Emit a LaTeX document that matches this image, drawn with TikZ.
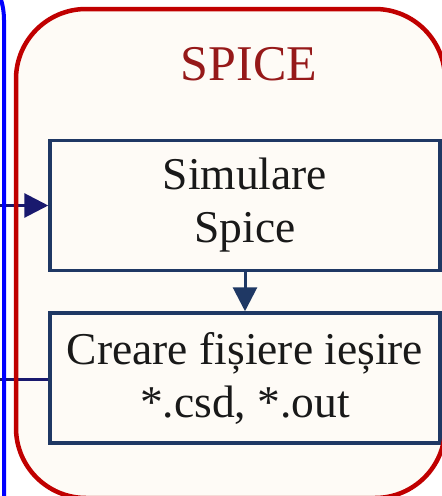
\documentclass[tikz,border=0pt]{standalone}
\usepackage{fontspec}
\setmainfont[Ligatures={NoCommon}]{Liberation Serif}
\usetikzlibrary{arrows.meta}
\definecolor{panelfill}{RGB}{254,251,246}
\definecolor{panelred}{RGB}{192,0,0}
\definecolor{titlered}{RGB}{150,25,25}
\definecolor{boxblue}{RGB}{31,56,100}
\definecolor{flownavy}{RGB}{25,25,110}
\tikzset{
  stepbox/.style={draw=boxblue, line width=3.5pt, fill=panelfill, minimum width=390pt,
    minimum height=130pt, align=center, inner sep=0pt,
    font=\fontsize{45.5pt}{53pt}\selectfont, text=black!90},
  flow/.style={line width=3pt, -{Triangle[length=24pt,width=24pt]}},
}
\begin{document}
\begin{tikzpicture}[x=1pt,y=-1pt]
  \useasboundingbox (0,0) rectangle (442,496);
  % panel background
  \fill[panelfill, rounded corners=70pt] (16,9) rectangle (445,498);
  % process steps
  \node[stepbox] (sim) at (245,205.5) {Simulare\\Spice};
  \node[stepbox] (out) at (245,378) {Creare fișiere ieșire\\*.csd, *.out};
  \node[text=titlered, font=\fontsize{50pt}{60pt}\selectfont, anchor=base] (title) at (249,80) {SPICE};
  % connectors
  \coordinate (inL) at (-5,205.5);
  \coordinate (outL) at (-5,379);
  \draw[flow, draw=flownavy, fill=flownavy] (inL) -- (sim.west);
  \draw[line width=3pt, draw=flownavy] (out.west |- outL) -- (outL);
  \draw[flow, draw=boxblue, fill=boxblue] (sim.south) -- (out.north);
  % panel outlines
  \draw[panelred, line width=4.5pt, rounded corners=70pt] (16,9) rectangle (445,498);
  \draw[blue, line width=4pt, rounded corners=70pt] (-300,-50) rectangle (4,700);
\end{tikzpicture}
\end{document}
